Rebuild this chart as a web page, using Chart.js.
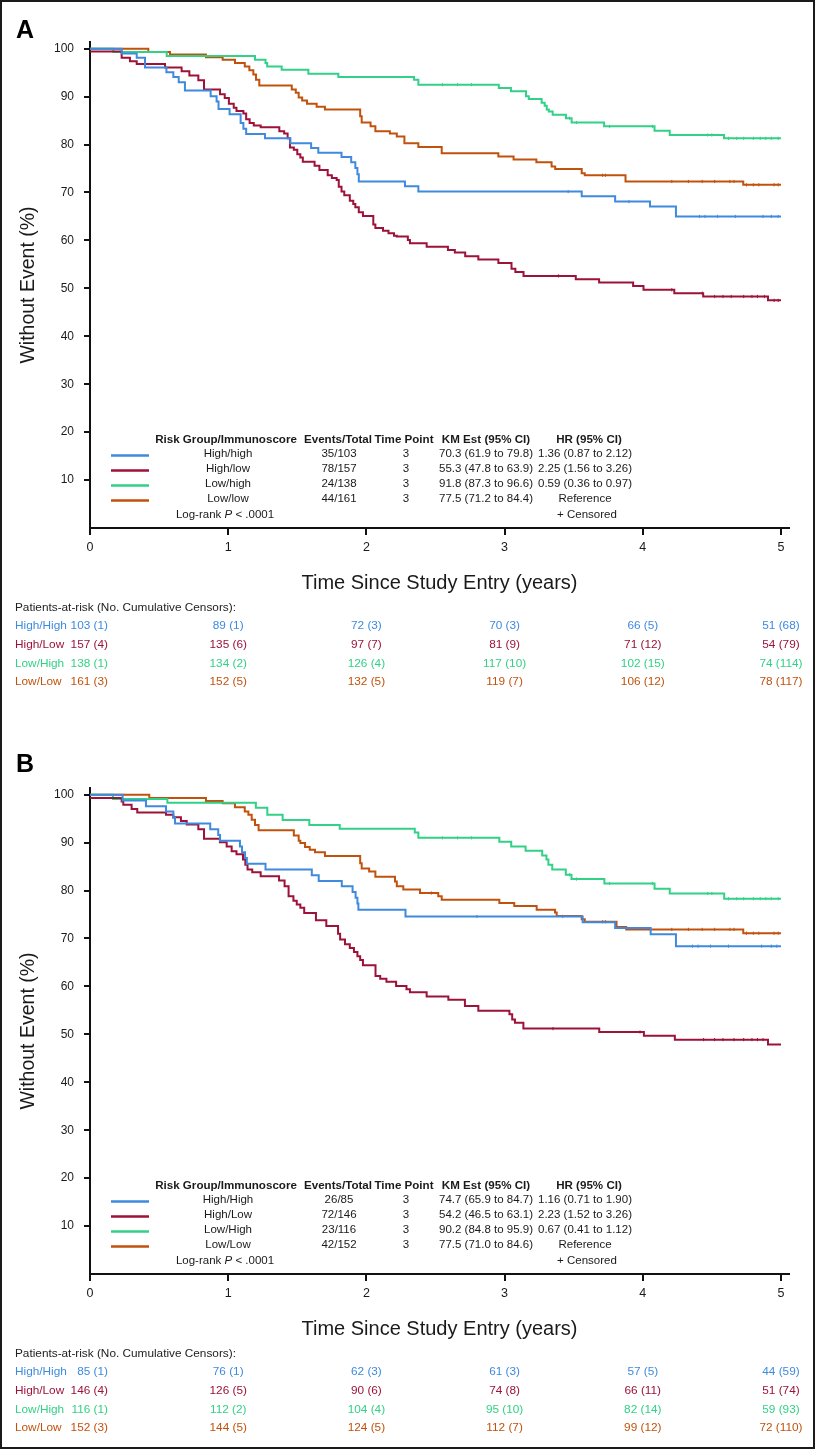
<!DOCTYPE html>
<html>
<head>
<meta charset="utf-8">
<title>Kaplan-Meier curves by risk group / immunoscore</title>
<script src="https://cdn.jsdelivr.net/npm/chart.js@4.4.1/dist/chart.umd.min.js"></script>
<style>
  html, body { margin: 0; padding: 0; background: #fff; }
  #page { position: relative; width: 816px; height: 1449px; overflow: hidden; background: #fff; }
  #frame { position: absolute; left: 0; top: 0; width: 815px; height: 1449px; box-sizing: border-box; border: 2px solid #1a1a1a; pointer-events: none; }
  canvas { position: absolute; left: 0; }
  #chartA { top: 0; }
  #chartB { top: 746px; }
</style>
</head>
<body>
<div id="page">
  <canvas id="chartA" width="816" height="746"></canvas>
  <canvas id="chartB" width="816" height="703"></canvas>
  <div id="frame"></div>
</div>
<script>
// ---- data ----
const groupNames = ["High/High", "High/Low", "Low/High", "Low/Low"];
const seriesColors = ["#3f8ade", "#9c1239", "#33d087", "#c1520d"];
const xTicks = [0, 1, 2, 3, 4, 5];
const yTicks = [10, 20, 30, 40, 50, 60, 70, 80, 90, 100];
const timePoint = 3;

// Panel A: step times (years) and % without event after each step
const timesA_HH = [0, 0.229, 0.338, 0.398, 0.553, 0.603, 0.642, 0.687, 0.873, 0.916, 0.93, 1.01, 1.09, 1.11, 1.13, 1.266, 1.45, 1.60, 1.652, 1.82, 1.89, 1.92, 1.935, 1.945, 2.279, 2.376, 3.558, 3.80, 4.052, 4.24, 5.0];
const survA_HH = [100, 99.0, 98.1, 96.1, 95.1, 94.1, 93.0, 91.3, 90.1, 89.0, 87.4, 86.3, 84.5, 83.3, 82.2, 81.3, 80.3, 79.3, 78.3, 77.4, 76.3, 75.1, 73.8, 72.3, 71.3, 70.2, 69.2, 68.1, 67.1, 65.0, 65.0];
const timesA_HL = [0, 0.229, 0.289, 0.338, 0.543, 0.663, 0.719, 0.784, 0.825, 0.941, 0.975, 1.005, 1.04, 1.06, 1.11, 1.13, 1.155, 1.185, 1.235, 1.37, 1.405, 1.43, 1.447, 1.475, 1.50, 1.522, 1.54, 1.625, 1.66, 1.72, 1.75, 1.785, 1.80, 1.82, 1.84, 1.88, 1.905, 1.92, 1.945, 1.975, 2.05, 2.065, 2.12, 2.16, 2.20, 2.22, 2.30, 2.315, 2.436, 2.59, 2.64, 2.715, 2.81, 2.955, 3.05, 3.078, 3.137, 3.515, 3.684, 3.93, 4.005, 4.228, 4.437, 4.906, 5.0];
const survA_HL = [99.4, 98.1, 97.4, 96.8, 96.1, 95.3, 94.4, 93.4, 91.5, 90.5, 89.7, 88.5, 87.7, 87.0, 86.5, 85.3, 84.5, 84.0, 83.6, 82.8, 82.3, 81.3, 79.4, 78.9, 78.0, 77.3, 76.4, 75.6, 74.7, 73.6, 73.0, 72.6, 71.2, 70.2, 69.4, 68.3, 67.6, 66.9, 65.9, 65.1, 63.3, 62.6, 62.0, 61.5, 61.0, 60.8, 60.1, 59.4, 58.7, 58.0, 57.5, 56.7, 56.0, 55.3, 54.1, 53.4, 52.6, 51.9, 51.2, 50.5, 49.7, 49.0, 48.3, 47.5, 47.5];
const timesA_LH = [0, 0.169, 0.555, 1.194, 1.27, 1.282, 1.387, 1.58, 1.797, 2.345, 2.376, 2.958, 3.046, 3.155, 3.175, 3.268, 3.29, 3.305, 3.32, 3.348, 3.444, 3.485, 3.72, 4.085, 4.195, 4.588, 5.0];
const survA_LH = [100, 99.3, 98.5, 97.7, 97.0, 96.3, 95.6, 94.8, 94.1, 93.5, 92.5, 91.8, 91.1, 90.1, 89.5, 88.7, 88.1, 87.3, 86.9, 86.2, 85.5, 84.6, 83.8, 82.9, 82.0, 81.3, 81.3];
const timesA_LL = [0, 0.422, 0.579, 0.839, 0.96, 1.049, 1.12, 1.153, 1.182, 1.201, 1.225, 1.46, 1.489, 1.51, 1.535, 1.57, 1.64, 1.70, 1.955, 1.966, 2.03, 2.065, 2.17, 2.22, 2.275, 2.376, 2.545, 2.955, 3.065, 3.23, 3.34, 3.366, 3.558, 3.58, 3.875, 4.727, 5.0];
const survA_LL = [100, 99.3, 98.8, 98.2, 97.7, 97.0, 96.3, 95.5, 94.6, 93.5, 92.3, 91.5, 90.8, 89.8, 89.2, 88.5, 87.9, 87.3, 85.9, 84.6, 83.8, 82.8, 82.3, 81.7, 80.3, 79.5, 78.2, 77.5, 76.9, 76.3, 75.4, 74.9, 74.0, 73.6, 72.3, 71.6, 71.6];

// Panel A censor marks
const censA_HH_t = [3.46, 3.90, 4.41, 4.45, 4.54, 4.67, 4.87, 4.93, 4.98];
const censA_HH_s = [70.2, 68.1, 65.0, 65.0, 65.0, 65.0, 65.0, 65.0, 65.0];
const censA_HL_t = [3.39, 4.21, 4.43, 4.52, 4.58, 4.64, 4.73, 4.79, 4.83, 4.88, 4.95, 4.98];
const censA_HL_s = [52.6, 49.7, 49.0, 48.3, 48.3, 48.3, 48.3, 48.3, 48.3, 48.3, 47.5, 47.5];
const censA_LH_t = [2.55, 2.66, 2.76, 3.47, 3.52, 3.76, 4.07, 4.47, 4.50, 4.62, 4.68, 4.73, 4.80, 4.85, 4.89, 4.93, 4.98];
const censA_LH_s = [92.5, 92.5, 92.5, 85.5, 84.6, 83.8, 83.8, 82.0, 82.0, 81.3, 81.3, 81.3, 81.3, 81.3, 81.3, 81.3, 81.3];
const censA_LL_t = [3.71, 3.73, 4.21, 4.33, 4.43, 4.52, 4.63, 4.66, 4.75, 4.80, 4.84, 4.95, 4.98];
const censA_LL_s = [73.6, 73.6, 72.3, 72.3, 72.3, 72.3, 72.3, 72.3, 71.6, 71.6, 71.6, 71.6, 71.6];

// Panel B
const timesB_HH = [0, 0.236, 0.405, 0.55, 0.603, 0.615, 0.87, 0.928, 0.941, 1.085, 1.10, 1.122, 1.135, 1.27, 1.605, 1.655, 1.822, 1.90, 1.922, 1.935, 1.942, 2.283, 3.565, 3.80, 4.057, 4.24, 5.0];
const survB_HH = [100, 98.8, 97.6, 96.5, 95.2, 94.0, 92.8, 91.6, 90.4, 89.2, 88.0, 86.8, 85.6, 84.4, 83.2, 82.0, 80.9, 79.7, 78.5, 77.3, 76.0, 74.6, 73.4, 72.2, 70.9, 68.4, 68.4];
const timesB_HL = [0, 0.229, 0.241, 0.301, 0.342, 0.55, 0.603, 0.658, 0.70, 0.784, 0.825, 0.94, 0.989, 1.025, 1.06, 1.107, 1.124, 1.14, 1.174, 1.235, 1.368, 1.408, 1.437, 1.472, 1.496, 1.522, 1.55, 1.635, 1.71, 1.795, 1.81, 1.845, 1.88, 1.91, 1.935, 1.955, 1.975, 2.066, 2.10, 2.145, 2.215, 2.29, 2.315, 2.436, 2.593, 2.713, 2.81, 3.035, 3.055, 3.075, 3.136, 3.685, 4.008, 4.232, 4.906, 5.0];
const survB_HL = [99.3, 98.6, 97.9, 97.0, 96.3, 95.8, 95.3, 94.5, 93.8, 92.8, 90.8, 90.1, 89.2, 88.2, 87.6, 86.5, 85.4, 84.4, 83.8, 83.0, 82.1, 80.9, 78.8, 77.9, 77.1, 76.4, 75.3, 73.8, 72.6, 71.0, 69.8, 68.8, 68.0, 67.2, 66.3, 65.5, 64.4, 62.2, 61.6, 61.0, 60.1, 59.4, 58.8, 57.9, 57.2, 55.9, 54.9, 54.2, 53.1, 52.4, 51.2, 50.5, 49.7, 48.9, 47.9, 47.9];
const timesB_LH = [0, 0.166, 0.56, 1.20, 1.283, 1.394, 1.587, 1.807, 2.35, 2.376, 2.962, 3.048, 3.152, 3.272, 3.303, 3.317, 3.345, 3.443, 3.484, 3.722, 4.085, 4.195, 4.589, 5.0];
const survB_LH = [100, 99.1, 98.3, 97.3, 95.8, 94.7, 93.7, 92.9, 92.1, 91.0, 90.2, 89.2, 88.3, 87.3, 86.5, 85.4, 84.4, 83.3, 82.4, 81.5, 80.4, 79.4, 78.3, 78.3];
const timesB_LL = [0, 0.429, 0.839, 0.96, 1.049, 1.12, 1.146, 1.17, 1.194, 1.22, 1.475, 1.51, 1.522, 1.556, 1.59, 1.628, 1.70, 1.955, 1.966, 2.02, 2.065, 2.207, 2.22, 2.267, 2.388, 2.52, 2.545, 2.962, 3.07, 3.232, 3.365, 3.377, 3.558, 3.58, 3.81, 3.88, 4.727, 5.0];
const survB_LL = [100, 99.3, 98.7, 98.2, 97.4, 96.5, 95.8, 94.8, 93.7, 92.6, 91.5, 90.4, 89.9, 89.1, 88.5, 88.0, 87.2, 85.7, 84.6, 84.0, 82.9, 81.9, 80.9, 80.2, 79.5, 78.8, 78.1, 77.4, 76.8, 76.0, 75.4, 74.7, 74.0, 73.5, 72.4, 71.9, 71.1, 71.1];

// Panel B censor marks
const censB_HH_t = [2.80, 3.42, 4.36, 4.40, 4.49, 4.62, 4.86, 4.93, 4.97];
const censB_HH_s = [74.6, 74.6, 68.4, 68.4, 68.4, 68.4, 68.4, 68.4, 68.4];
const censB_HL_t = [3.35, 3.98, 4.44, 4.52, 4.58, 4.66, 4.73, 4.79, 4.83, 4.87];
const censB_HL_s = [51.2, 50.5, 48.9, 48.9, 48.9, 48.9, 48.9, 48.9, 48.9, 48.9];
const censB_LH_t = [2.55, 2.66, 2.76, 3.47, 3.52, 3.76, 4.07, 4.47, 4.50, 4.62, 4.68, 4.73, 4.80, 4.85, 4.89, 4.93, 4.98];
const censB_LH_s = [91.0, 91.0, 91.0, 83.3, 82.4, 81.5, 81.5, 79.4, 79.4, 78.3, 78.3, 78.3, 78.3, 78.3, 78.3, 78.3, 78.3];
const censB_LL_t = [2.47, 3.71, 3.73, 4.21, 4.33, 4.43, 4.52, 4.63, 4.66, 4.75, 4.80, 4.84, 4.95, 4.98];
const censB_LL_s = [79.5, 73.5, 73.5, 71.9, 71.9, 71.9, 71.9, 71.9, 71.9, 71.1, 71.1, 71.1, 71.1, 71.1];

// legend table text
const legendNamesA = ["High/high", "High/low", "Low/high", "Low/low"];
const eventsA = ["35/103", "78/157", "24/138", "44/161"];
const kmEstA = ["70.3 (61.9 to 79.8)", "55.3 (47.8 to 63.9)", "91.8 (87.3 to 96.6)", "77.5 (71.2 to 84.4)"];
const hrA = ["1.36 (0.87 to 2.12)", "2.25 (1.56 to 3.26)", "0.59 (0.36 to 0.97)", "Reference"];
const legendNamesB = ["High/High", "High/Low", "Low/High", "Low/Low"];
const eventsB = ["26/85", "72/146", "23/116", "42/152"];
const kmEstB = ["74.7 (65.9 to 84.7)", "54.2 (46.5 to 63.1)", "90.2 (84.8 to 95.9)", "77.5 (71.0 to 84.6)"];
const hrB = ["1.16 (0.71 to 1.90)", "2.23 (1.52 to 3.26)", "0.67 (0.41 to 1.12)", "Reference"];

// patients at risk and cumulative censors at years 0..5
const riskA = [[103, 89, 72, 70, 66, 51], [157, 135, 97, 81, 71, 54], [138, 134, 126, 117, 102, 74], [161, 152, 132, 119, 106, 78]];
const censCumA = [[1, 1, 3, 3, 5, 68], [4, 6, 7, 9, 12, 79], [1, 2, 4, 10, 15, 114], [3, 5, 5, 7, 12, 117]];
const riskB = [[85, 76, 62, 61, 57, 44], [146, 126, 90, 74, 66, 51], [116, 112, 104, 95, 82, 59], [152, 144, 124, 112, 99, 72]];
const censCumB = [[1, 1, 3, 3, 5, 59], [4, 5, 6, 8, 11, 74], [1, 2, 4, 10, 14, 93], [3, 5, 5, 7, 12, 110]];

const FONT = "'Liberation Sans', Arial, Helvetica, sans-serif";
const TEXT = "#1a1a1a";

// draws the panel letter, the in-plot legend table and the at-risk table
const kmTablePlugin = {
    id: "kmTable",
    afterDraw(chart, args, opts) {
        const ctx = chart.ctx;
        const xs = chart.scales.x;
        const base = chart.chartArea.bottom;
        ctx.save();
        ctx.textBaseline = "alphabetic";

        ctx.fillStyle = "#000";
        ctx.font = "bold 25px " + FONT;
        ctx.textAlign = "left";
        ctx.fillText(opts.letter, 16, opts.letterY);

        // legend header
        ctx.fillStyle = TEXT;
        ctx.font = "bold 11.6px " + FONT;
        ctx.textAlign = "center";
        const hy = base - 85.5;
        ctx.fillText("Risk Group/Immunoscore", 226, hy);
        ctx.fillText("Events/Total", 338, hy);
        ctx.fillText("Time Point", 404, hy);
        ctx.fillText("KM Est (95% CI)", 486, hy);
        ctx.fillText("HR (95% CI)", 589, hy);

        ctx.font = "11.5px " + FONT;
        opts.names.forEach((name, i) => {
            const y = base - 71 + i * 15;
            ctx.strokeStyle = seriesColors[i];
            ctx.lineWidth = 2.5;
            ctx.beginPath();
            ctx.moveTo(111, y - 1.5);
            ctx.lineTo(149, y - 1.5);
            ctx.stroke();
            ctx.fillStyle = TEXT;
            ctx.fillText(name, 228, y);
            ctx.fillText(opts.events[i], 339, y);
            ctx.fillText(String(timePoint), 406, y);
            ctx.fillText(opts.km[i], 486, y);
            ctx.fillText(opts.hr[i], 585, y);
        });

        // log-rank line with italic P
        const ly = base - 10;
        const partA = "Log-rank ", partB = "P", partC = " < .0001";
        ctx.font = "11.5px " + FONT;
        const wA = ctx.measureText(partA).width, wC = ctx.measureText(partC).width;
        ctx.font = "italic 11.5px " + FONT;
        const wB = ctx.measureText(partB).width;
        const lx = 225 - (wA + wB + wC) / 2;
        ctx.textAlign = "left";
        ctx.font = "11.5px " + FONT;
        ctx.fillText(partA, lx, ly);
        ctx.font = "italic 11.5px " + FONT;
        ctx.fillText(partB, lx + wA, ly);
        ctx.font = "11.5px " + FONT;
        ctx.fillText(partC, lx + wA + wB, ly);
        ctx.textAlign = "center";
        ctx.fillText("+ Censored", 587, ly);

        // patients at risk
        ctx.font = "11.8px " + FONT;
        ctx.textAlign = "left";
        ctx.fillStyle = "#222";
        ctx.fillText("Patients-at-risk (No. Cumulative Censors):", 15, base + 82.5);
        groupNames.forEach((g, i) => {
            const y = base + 101 + i * 18.8;
            ctx.fillStyle = seriesColors[i];
            ctx.textAlign = "left";
            ctx.fillText(g, 15, y);
            xTicks.forEach((t, j) => {
                const label = opts.risk[i][j] + " (" + opts.cens[i][j] + ")";
                if (j === 0) {
                    ctx.textAlign = "right";
                    ctx.fillText(label, 108, y);
                } else {
                    ctx.textAlign = "center";
                    ctx.fillText(label, xs.getPixelForValue(t), y);
                }
            });
        });
        ctx.restore();
    }
};

function toPoints(ts, ss) {
    return ts.map((t, k) => ({ x: t, y: ss[k] }));
}

function makeChart(id, height, curves, censors, table) {
    const datasets = [];
    curves.forEach((c, i) => {
        datasets.push({
            label: groupNames[i],
            data: toPoints(c[0], c[1]),
            borderColor: seriesColors[i],
            borderWidth: 2,
            pointRadius: 0,
            stepped: "before",
            fill: false
        });
    });
    censors.forEach((c, i) => {
        datasets.push({
            type: "scatter",
            label: groupNames[i] + " censored",
            data: toPoints(c[0], c[1]),
            pointStyle: "line",
            rotation: 90,
            pointRadius: 1.6,
            borderColor: seriesColors[i],
            borderWidth: 1,
            showLine: false
        });
    });

    const axisGrid = { display: true, drawOnChartArea: false, drawTicks: true, color: "#111", lineWidth: 2 };

    return new Chart(document.getElementById(id), {
        type: "line",
        data: { datasets },
        options: {
            responsive: false,
            animation: false,
            events: [],
            layout: { padding: { top: 42, right: 27, left: 0, bottom: height - 600 } },
            plugins: {
                legend: { display: false },
                tooltip: { enabled: false },
                kmTable: table
            },
            scales: {
                x: {
                    type: "linear",
                    min: 0,
                    max: 5.058,
                    afterBuildTicks: (s) => { s.ticks = xTicks.map((v) => ({ value: v })); },
                    afterFit: (s) => { s.height = 72; },
                    grid: Object.assign({}, axisGrid, { tickLength: 7 }),
                    border: { display: true, color: "#111", width: 2 },
                    ticks: { color: TEXT, font: { family: FONT, size: 12.5 }, padding: 5, maxRotation: 0 },
                    title: {
                        display: true,
                        text: "Time Since Study Entry (years)",
                        color: TEXT,
                        font: { family: FONT, size: 20 },
                        padding: { top: 0, bottom: 5 }
                    }
                },
                y: {
                    type: "linear",
                    min: 0,
                    max: 101.4,
                    afterBuildTicks: (s) => { s.ticks = yTicks.map((v) => ({ value: v })); },
                    afterFit: (s) => { s.width = 90; },
                    grid: Object.assign({}, axisGrid, { tickLength: 6 }),
                    border: { display: true, color: "#111", width: 2 },
                    ticks: { color: TEXT, font: { family: FONT, size: 12 }, padding: 10 },
                    title: {
                        display: true,
                        text: "Without Event (%)",
                        color: TEXT,
                        font: { family: FONT, size: 19.5 },
                        padding: { top: 17, bottom: 0 }
                    }
                }
            }
        },
        plugins: [kmTablePlugin]
    });
}

makeChart("chartA", 746,
    [[timesA_HH, survA_HH], [timesA_HL, survA_HL], [timesA_LH, survA_LH], [timesA_LL, survA_LL]],
    [[censA_HH_t, censA_HH_s], [censA_HL_t, censA_HL_s], [censA_LH_t, censA_LH_s], [censA_LL_t, censA_LL_s]],
    { letter: "A", letterY: 38, names: legendNamesA, events: eventsA, km: kmEstA, hr: hrA, risk: riskA, cens: censCumA });

makeChart("chartB", 703,
    [[timesB_HH, survB_HH], [timesB_HL, survB_HL], [timesB_LH, survB_LH], [timesB_LL, survB_LL]],
    [[censB_HH_t, censB_HH_s], [censB_HL_t, censB_HL_s], [censB_LH_t, censB_LH_s], [censB_LL_t, censB_LL_s]],
    { letter: "B", letterY: 26, names: legendNamesB, events: eventsB, km: kmEstB, hr: hrB, risk: riskB, cens: censCumB });
</script>
</body>
</html>
